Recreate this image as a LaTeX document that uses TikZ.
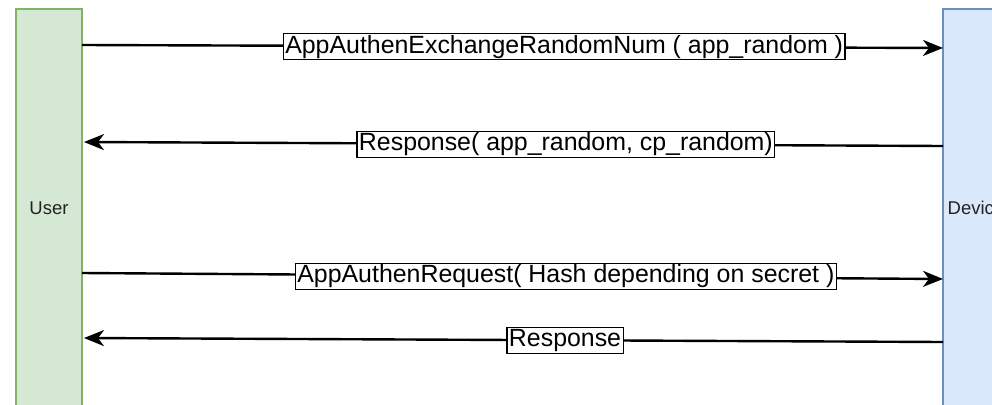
\documentclass[tikz,border=0pt]{standalone}
\usepackage{fontspec}
\setmainfont{Liberation Sans}
\usetikzlibrary{arrows.meta}
\definecolor{ugreen}{HTML}{D5E8D4}
\definecolor{ugreenb}{HTML}{82B366}
\definecolor{dblue}{HTML}{DAE8FC}
\definecolor{dblueb}{HTML}{6C8EBF}
\definecolor{txt}{HTML}{222222}
\tikzset{
  lifeline/.style={draw, line width=1.3pt, minimum width=66pt, minimum height=398pt, inner sep=0pt,
    font=\fontsize{18.5}{20}\selectfont, text=txt},
  msg/.style={line width=2.4pt, -{Stealth[length=20pt, width=16pt, inset=6pt]}},
  msgbox/.style={draw, fill=white, line width=1.2pt, inner xsep=2pt, inner ysep=0pt,
    text height=19.5pt, text depth=6.5pt, font=\fontsize{24.9}{26}\selectfont, text=black}
}
\begin{document}
\begin{tikzpicture}[x=1pt,y=-1pt]
\useasboundingbox (0,0) rectangle (992,404);
\node[lifeline, fill=ugreen, draw=ugreenb] (user) at (49,208) {User};
\node[lifeline, fill=dblue, draw=dblueb] (device) at (976,208) {Device};
\coordinate (u1) at (82,45);
\coordinate (d1) at (943,48);
\coordinate (d2) at (943,146);
\coordinate (u2) at (84,142);
\coordinate (u3) at (82,273);
\coordinate (d3) at (943,279);
\coordinate (d4) at (943,342);
\coordinate (u4) at (84,338);
\draw[msg] (u1) -- node[msgbox, pos=0.56] (l1) {AppAuthenExchangeRandomNum ( app\_random )} (d1);
\draw[msg] (d2) -- node[msgbox, pos=0.439] (l2) {Response( app\_random, cp\_random)} (u2);
\draw[msg] (u3) -- node[msgbox, pos=0.562] (l3) {AppAuthenRequest( Hash depending on secret )} (d3);
\draw[msg] (d4) -- node[msgbox, pos=0.44] (l4) {Response} (u4);
\end{tikzpicture}
\end{document}
